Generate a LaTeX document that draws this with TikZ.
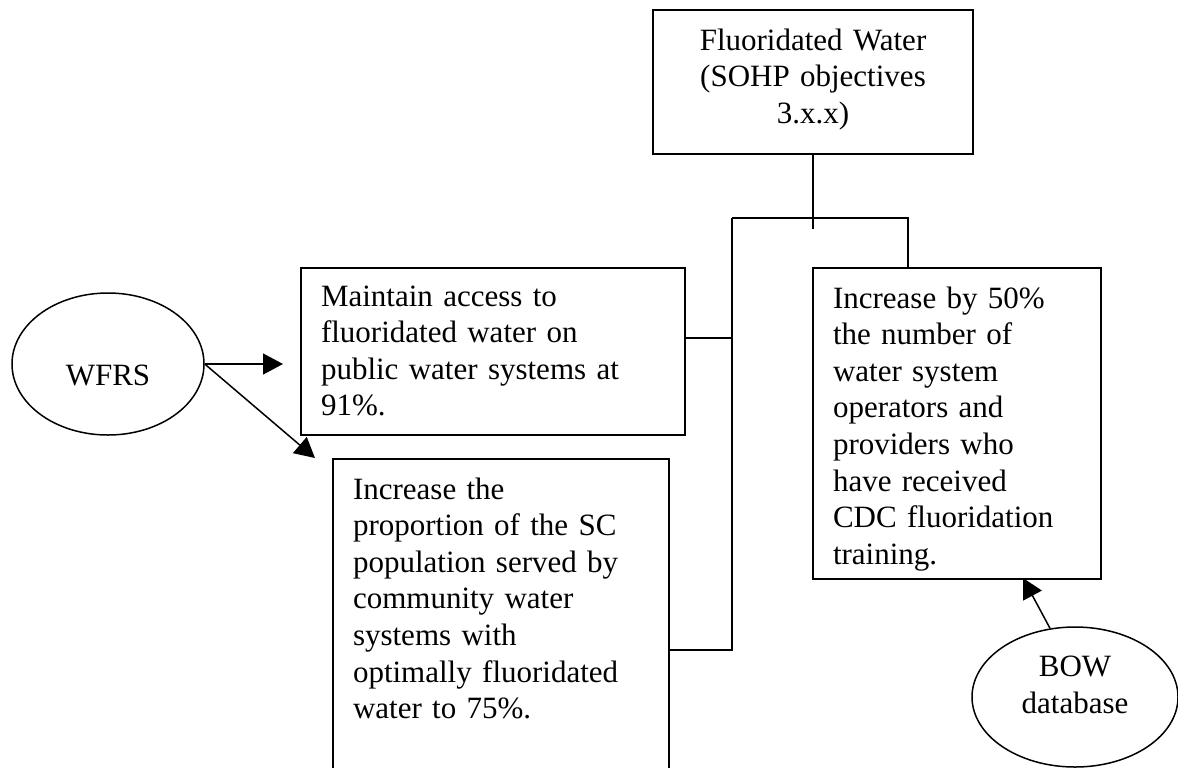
\documentclass[tikz,border=0pt]{standalone}
\usepackage{fontspec}
\setmainfont{Liberation Serif}
\usetikzlibrary{shapes.geometric, arrows.meta}

\begin{document}
\begin{tikzpicture}[x=0.4pt, y=-0.4pt,
  box/.style={draw, line width=0.8pt, anchor=north west, inner xsep=8pt, inner ysep=0pt,
    align=left, font=\fontsize{12.4}{14.64}\selectfont},
  src/.style={draw, ellipse, line width=0.6pt, inner sep=0pt, align=center,
    font=\fontsize{12.4}{14.64}\selectfont},
  arr/.style={-{Triangle[length=8pt,width=8.4pt]}, line width=0.6pt},
  link/.style={line width=0.8pt}]
  \useasboundingbox (0,0) rectangle (1178,767);
  \clip (0,0) rectangle (1178,767);

  % Kaesten
  \node[box, align=center, text width=112pt, text height=16pt, text depth=41.6pt] (fw) at (652,9)
    {Fluoridated Water\\(SOHP objectives\\3.x.x)};
  \node[box, text width=137.6pt, text height=15.2pt, text depth=51.6pt] (maintain) at (300,267)
    {Maintain access to\\fluoridated water on\\public water systems at\\91\%.};
  \node[box, text width=118.4pt, text height=16pt, text depth=120.8pt] (sc) at (332,458)
    {Increase the\\proportion of the SC\\population served by\\community water\\systems with\\optimally fluoridated\\water to 75\%.};
  \node[box, text width=99.2pt, text height=16pt, text depth=108.4pt] (train) at (812,267)
    {Increase by 50\%\\the number of\\water system\\operators and\\providers who\\have received\\CDC fluoridation\\training.};

  % Quellen
  \node[src, minimum width=76.8pt, minimum height=56.8pt, text height=17.6pt] (wfrs) at (108,364) {WFRS};
  \node[src, minimum width=82.4pt, minimum height=56pt, text depth=9.6pt] (bow) at (1075,697) {BOW\\database};

  % Verbindungen
  \coordinate (jl) at (732,218);
  \coordinate (jr) at (908,218);
  \draw[link] (fw.south) -- ++(0,74);
  \draw[link] (jl) -- (jr) -- (jr |- train.north);
  \draw[link] (maintain.east |- 0,338) -- (jl |- 0,338);
  \draw[link] (jl) -- (jl |- 0,650) -- (sc.east |- 0,650);

  % Pfeile
  \coordinate (scin) at (315,458);
  \coordinate (bowin) at (1023,578);
  \draw[arr, shorten >=6.8pt] (wfrs.east) -- (wfrs.east -| maintain.west);
  \draw[arr] (wfrs.east) -- (scin);
  \draw[arr] (bow.110) -- (bowin);
\end{tikzpicture}
\end{document}
